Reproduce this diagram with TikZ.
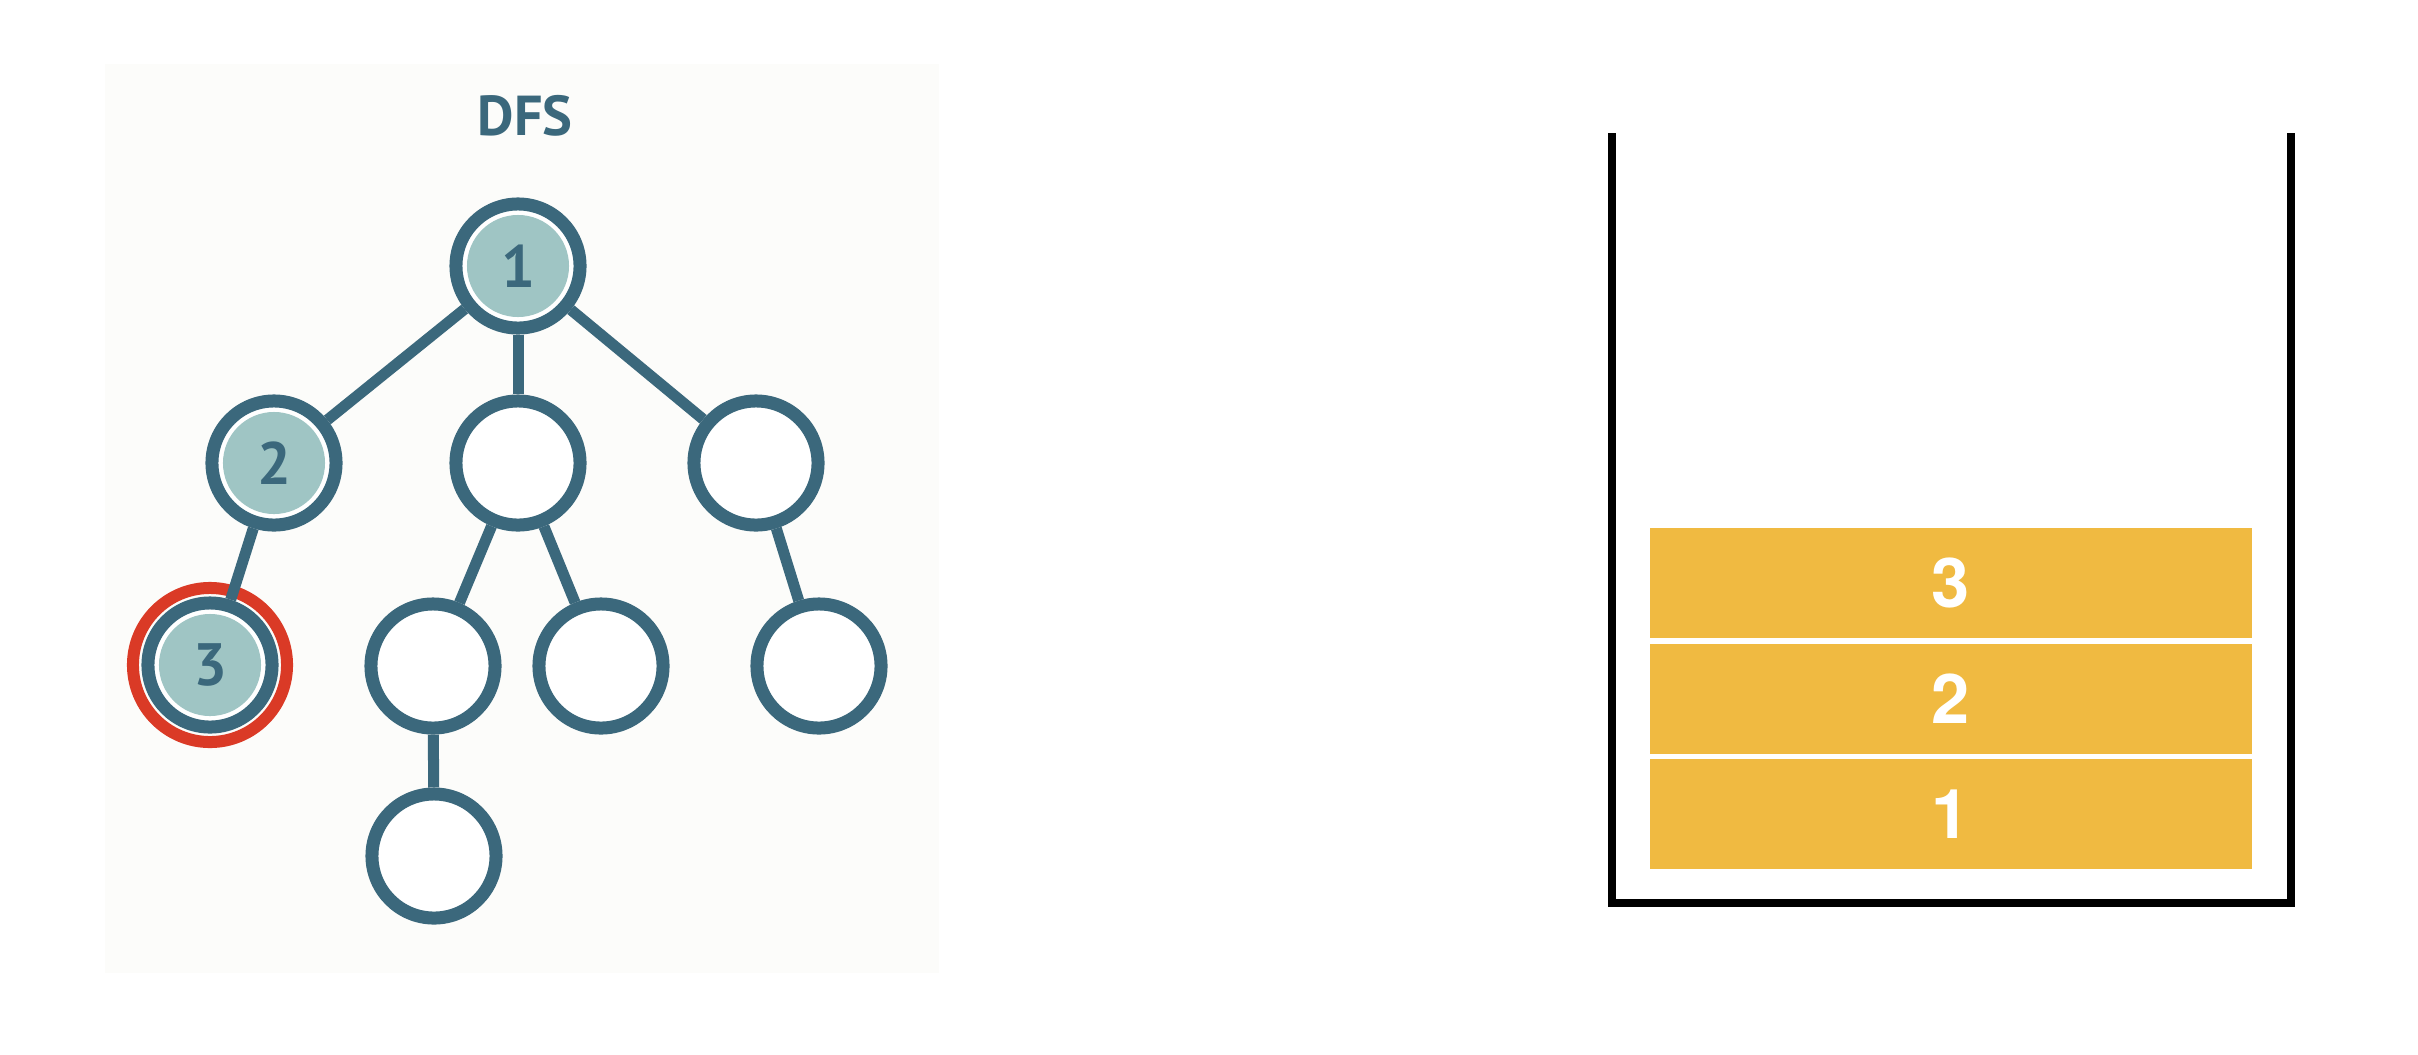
\documentclass[tikz,border=0pt]{standalone}
\usepackage{fontspec}
\usepackage{tikz}
\usetikzlibrary{positioning}

\newfontfamily\treefont{PT Sans}[Numbers=Lining]
\newfontfamily\stackfont{TeX Gyre Heros}[Numbers=Lining]

\definecolor{treeline}{HTML}{3B687C}
\definecolor{visitfill}{HTML}{9FC5C4}
\definecolor{markred}{HTML}{DA3A26}
\definecolor{stackyellow}{HTML}{F0BA41}
\definecolor{panelbg}{HTML}{FCFCFA}

\begin{document}
\begin{tikzpicture}[
  x=0.01cm, y=-0.01cm,
  node distance=0.04cm,
  vertex/.style={circle, draw=treeline, line width=0.13cm, fill=white, minimum size=1.24cm, inner sep=0pt, text=treeline, font=\treefont\bfseries\fontsize{17}{19}\selectfont},
  visited/.style={vertex, path picture={\fill[visitfill] (path picture bounding box.center) circle (0.51cm);}},
  edge/.style={draw=treeline, line width=0.11cm},
  redring/.style={circle, draw=markred, line width=0.12cm, minimum size=1.54cm, inner sep=0pt},
  title/.style={text=treeline, font=\treefont\bfseries\fontsize{16}{18}\selectfont},
  slot/.style={fill=stackyellow, minimum width=6.02cm, minimum height=1.10cm, inner sep=0pt, text=white, font=\stackfont\bfseries\fontsize{19.5}{22}\selectfont},
  wall/.style={line width=0.08cm, line join=miter}
]
\useasboundingbox (0,0) rectangle (2418,1054);

% tree panel
\fill[panelbg] (105,64) rectangle (939,973);
\node[title] (title) at (525,116) {DFS};

\node[visited] (n1) at (518,266) {1};
\node[visited] (n2) at (274,463) {2};
\node[vertex] (n3) at (518,463) {};
\node[vertex] (n4) at (756,463) {};
\node[visited] (n5) at (210,665) {3};
\node[vertex] (n6) at (433,666) {};
\node[vertex] (n7) at (601,666) {};
\node[vertex] (n8) at (819,666) {};
\node[vertex] (n9) at (434,856) {};
\node[redring] (ring) at (n5) {};

\draw[edge] (n1) -- (n2);
\draw[edge] (n1) -- (n3);
\draw[edge] (n1) -- (n4);
\draw[edge] (n2) -- (n5);
\draw[edge] (n3) -- (n6);
\draw[edge] (n3) -- (n7);
\draw[edge] (n4) -- (n8);
\draw[edge] (n6) -- (n9);

% stack
\coordinate (wallTL) at (1612,133);
\coordinate (wallBL) at (1612,903);
\coordinate (wallBR) at (2291,903);
\coordinate (wallTR) at (2291,133);
\draw[wall] (wallTL) -- (wallBL) -- (wallBR) -- (wallTR);

\node[slot] (s1) at (1951,814) {1};
\node[slot, above=of s1] (s2) {2};
\node[slot, above=of s2] (s3) {3};

\end{tikzpicture}
\end{document}
